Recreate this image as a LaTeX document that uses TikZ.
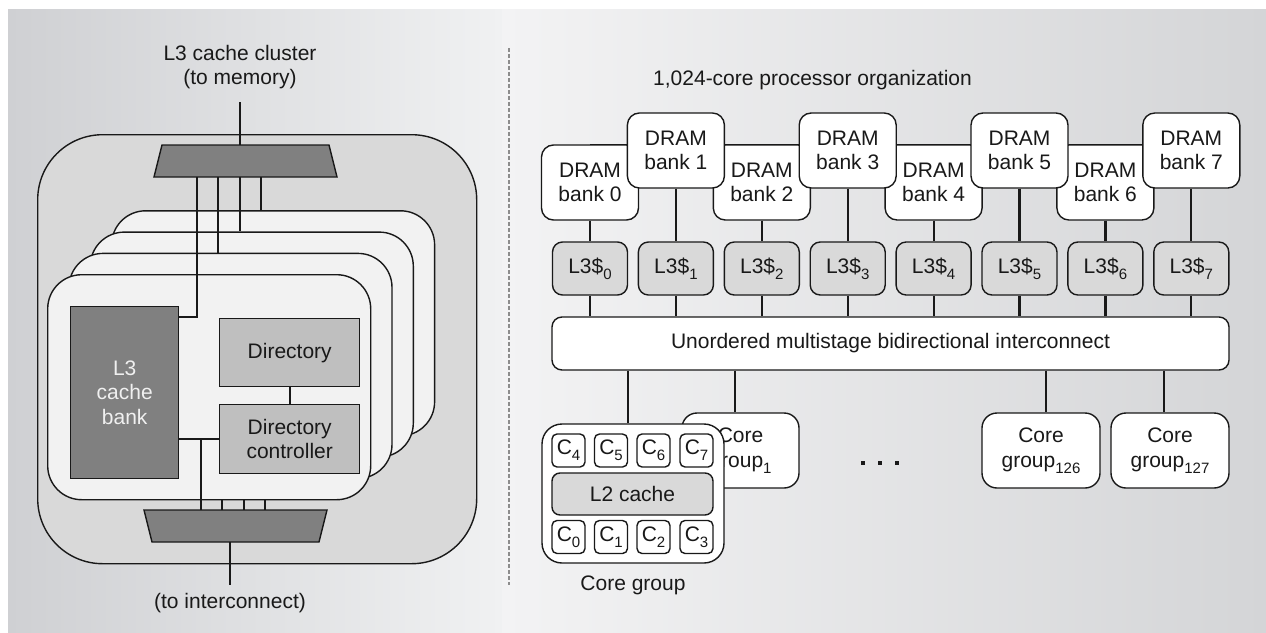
\documentclass[tikz,border=0pt]{standalone}
\usepackage{fontspec}
\setmainfont{Liberation Sans}

\definecolor{bgdark}{RGB}{207,208,211}
\definecolor{bgdarkr}{RGB}{212,213,215}
\definecolor{bglight}{RGB}{240,241,242}
\definecolor{bglightr}{RGB}{243,243,244}
\definecolor{clusterfill}{RGB}{217,217,217}
\definecolor{cardfill}{RGB}{242,242,242}
\definecolor{darkblock}{RGB}{128,128,128}
\definecolor{dirfill}{RGB}{191,191,191}
\definecolor{cachefill}{RGB}{217,217,217}
\definecolor{ink}{RGB}{25,25,25}
\definecolor{sepgray}{RGB}{140,140,140}

% lowered small index, as in L3$_0 or C_4
\newcommand\sbx[1]{\raisebox{-6pt}{\fontsize{15}{15}\selectfont #1}}

\pgfdeclarelayer{panel}
\pgfdeclarelayer{behind}
\pgfsetlayers{panel,behind,main}

\begin{document}
\begin{tikzpicture}[x=1pt,y=-1pt,
  every node/.style={inner sep=0pt, align=center, text=ink,
    font=\fontsize{21}{24.5}\selectfont},
  outline/.style={draw=ink, line width=1.4pt},
  wire/.style={draw=ink, line width=2.2pt},
  tlbox/.style={outline, rectangle, anchor=north west},
  mux/.style={outline, fill=darkblock, line join=miter},
  card/.style={tlbox, fill=cardfill, rounded corners=34,
    minimum width=323, minimum height=225},
  dram/.style={outline, fill=white, rounded corners=12,
    minimum width=97, minimum height=75},
  lthree/.style={outline, fill=cachefill, rounded corners=10,
    minimum width=75, minimum height=53},
  cgroup/.style={outline, fill=white, rounded corners=15,
    minimum width=118, minimum height=75},
  core/.style={outline, fill=white, rounded corners=5,
    minimum width=33, minimum height=33, font=\fontsize{21}{21}\selectfont},
]
\useasboundingbox (0,0) rectangle (1266,632);

% ---------- panels ----------
\begin{pgfonlayer}{panel}
  \fill[white] (0,0) rectangle (1266,632);
  \shade[left color=bgdark, right color=bglight] (8,9) rectangle (502,632);
  \shade[left color=bglightr, right color=bgdarkr] (502,9) rectangle (1266,632);
  \draw[sepgray, line width=1.4pt, dash pattern=on 4pt off 2pt] (509,48) -- (509,585);
\end{pgfonlayer}

% ================= L3 cache cluster =================
\node (lbltop) at (240,67) {L3 cache cluster\\(to memory)};
\node[tlbox, fill=clusterfill, rounded corners=65,
      minimum width=439, minimum height=429] (cluster) at (37,134) {};

% upper multiplexer (narrow side up)
\path[mux] (154,177) -- (162,145) -- (329,145) -- (337,177) -- cycle;
\coordinate (mtopN) at (245.5,145);
\coordinate (mtopS) at (245.5,177);

% stacked cache tiles, back to front
\foreach \k in {3,2,1,0}
  \node[card] (card\k) at ({47+21.3*\k},{274-21.3*\k}) {};

\node[tlbox, fill=darkblock, minimum width=108, minimum height=172,
      text=white!94!black] (l3bank) at (70,306) {L3\\cache\\bank};
\node[tlbox, fill=dirfill, minimum width=140, minimum height=68] (dir) at (219,318) {Directory};
\node[tlbox, fill=dirfill, minimum width=140, minimum height=69] (dirctl) at (219,404) {Directory\\controller};

% lower multiplexer (narrow side down)
\path[mux] (144,510) -- (327,510) -- (319,542) -- (152,542) -- cycle;
\coordinate (mbotN) at (235.5,510);
\coordinate (mbotS) at (235.5,542);
\node (lblbot) at (230,603) {(to interconnect)};

% memory-side port
\coordinate (memport) at (240,102);
\draw[wire] (memport) -- (memport |- mtopN);

% top mux to each tile
\coordinate (xa) at (197,0);
\coordinate (xb) at (218,0);
\coordinate (xc) at (240,0);
\coordinate (xd) at (261,0);
\draw[wire] (xd |- mtopS) -- (xd |- card3.north);
\draw[wire] (xc |- mtopS) -- (xc |- card2.north);
\draw[wire] (xb |- mtopS) -- (xb |- card1.north);
\coordinate (l3in) at (197,317);
\draw[wire] (xa |- mtopS) -- (l3in) -- (l3in -| l3bank.east);

% inside the front tile
\draw[wire] (dir.south) -- (dirctl.north);
\draw[wire] (l3bank.east |- dirctl.west) -- (dirctl.west);

% tiles to bottom mux
\coordinate (ya) at (201,0);
\coordinate (yb) at (222,0);
\coordinate (yc) at (244,0);
\coordinate (yd) at (265,0);
\draw[wire] (ya |- dirctl.west) -- (ya |- mbotN);
\foreach \c in {yb,yc,yd}
  \draw[wire] (\c |- card0.south) -- (\c |- mbotN);

\coordinate (netport) at (230,585);
\draw[wire] (netport |- mbotS) -- (netport);

% ================= 1,024-core organization =================
\node[anchor=base west] (title) at (653,85) {1,024-core processor organization};

\foreach \i in {0,2,4,6}
  \node[dram] (dram\i) at ({590+85.9*\i},182.5) {DRAM\\bank \i};
\foreach \i in {1,3,5,7}
  \node[dram] (dram\i) at ({590+85.9*\i},150.5) {DRAM\\bank \i};

% memory bus behind the banks
\begin{pgfonlayer}{behind}
  \draw[outline] (dram0.north) -- (dram0.north -| dram7.center);
\end{pgfonlayer}

\foreach \i in {0,...,7}
  \node[lthree] (lc\i) at ({590+85.9*\i},268.5) {L3\$\sbx{\i}};

\node[outline, fill=white, rounded corners=10, minimum width=677, minimum height=53]
  (ic) at (890.5,343.5) {Unordered multistage bidirectional interconnect};

\foreach \i in {0,...,7} {
  \draw[wire] (dram\i.south) -- (lc\i.north);
  \draw[wire] (lc\i.south) -- (lc\i.south |- ic.north);
}

% core groups
\node[cgroup, minimum width=117] (cg1) at (740.5,450.5) {Core\\group\sbx{1}};
\node[cgroup] (cg126) at (1041,450.5) {Core\\group\sbx{126}};
\node[cgroup] (cg127) at (1170,450.5) {Core\\group\sbx{127}};

\node[outline, fill=white, rounded corners=20, minimum width=182, minimum height=139]
  (cg0) at (633,493.5) {};
\foreach \n/\x in {4/568.5,5/611,6/653.5,7/696.5}
  \node[core] (c\n) at (\x,450.5) {C\sbx{\n}};
\node[outline, fill=cachefill, rounded corners=8, minimum width=161, minimum height=42]
  (l2) at (632.5,494) {L2 cache};
\foreach \n/\x in {0/568.5,1/611,2/653.5,3/696.5}
  \node[core] (c\n) at (\x,537) {C\sbx{\n}};
\node (lblcg) at (633,585) {Core group};

\foreach \d/\x in {1/863,2/880,3/897}
  \node[fill=ink, minimum size=4] (dot\d) at (\x,463) {};

\coordinate (pg0) at (628,0);
\coordinate (pg1) at (735,0);
\coordinate (pg126) at (1046,0);
\coordinate (pg127) at (1164,0);
\draw[wire] (pg0 |- ic.south) -- (pg0 |- cg0.north);
\draw[wire] (pg1 |- ic.south) -- (pg1 |- cg1.north);
\draw[wire] (pg126 |- ic.south) -- (pg126 |- cg126.north);
\draw[wire] (pg127 |- ic.south) -- (pg127 |- cg127.north);
\end{tikzpicture}
\end{document}
